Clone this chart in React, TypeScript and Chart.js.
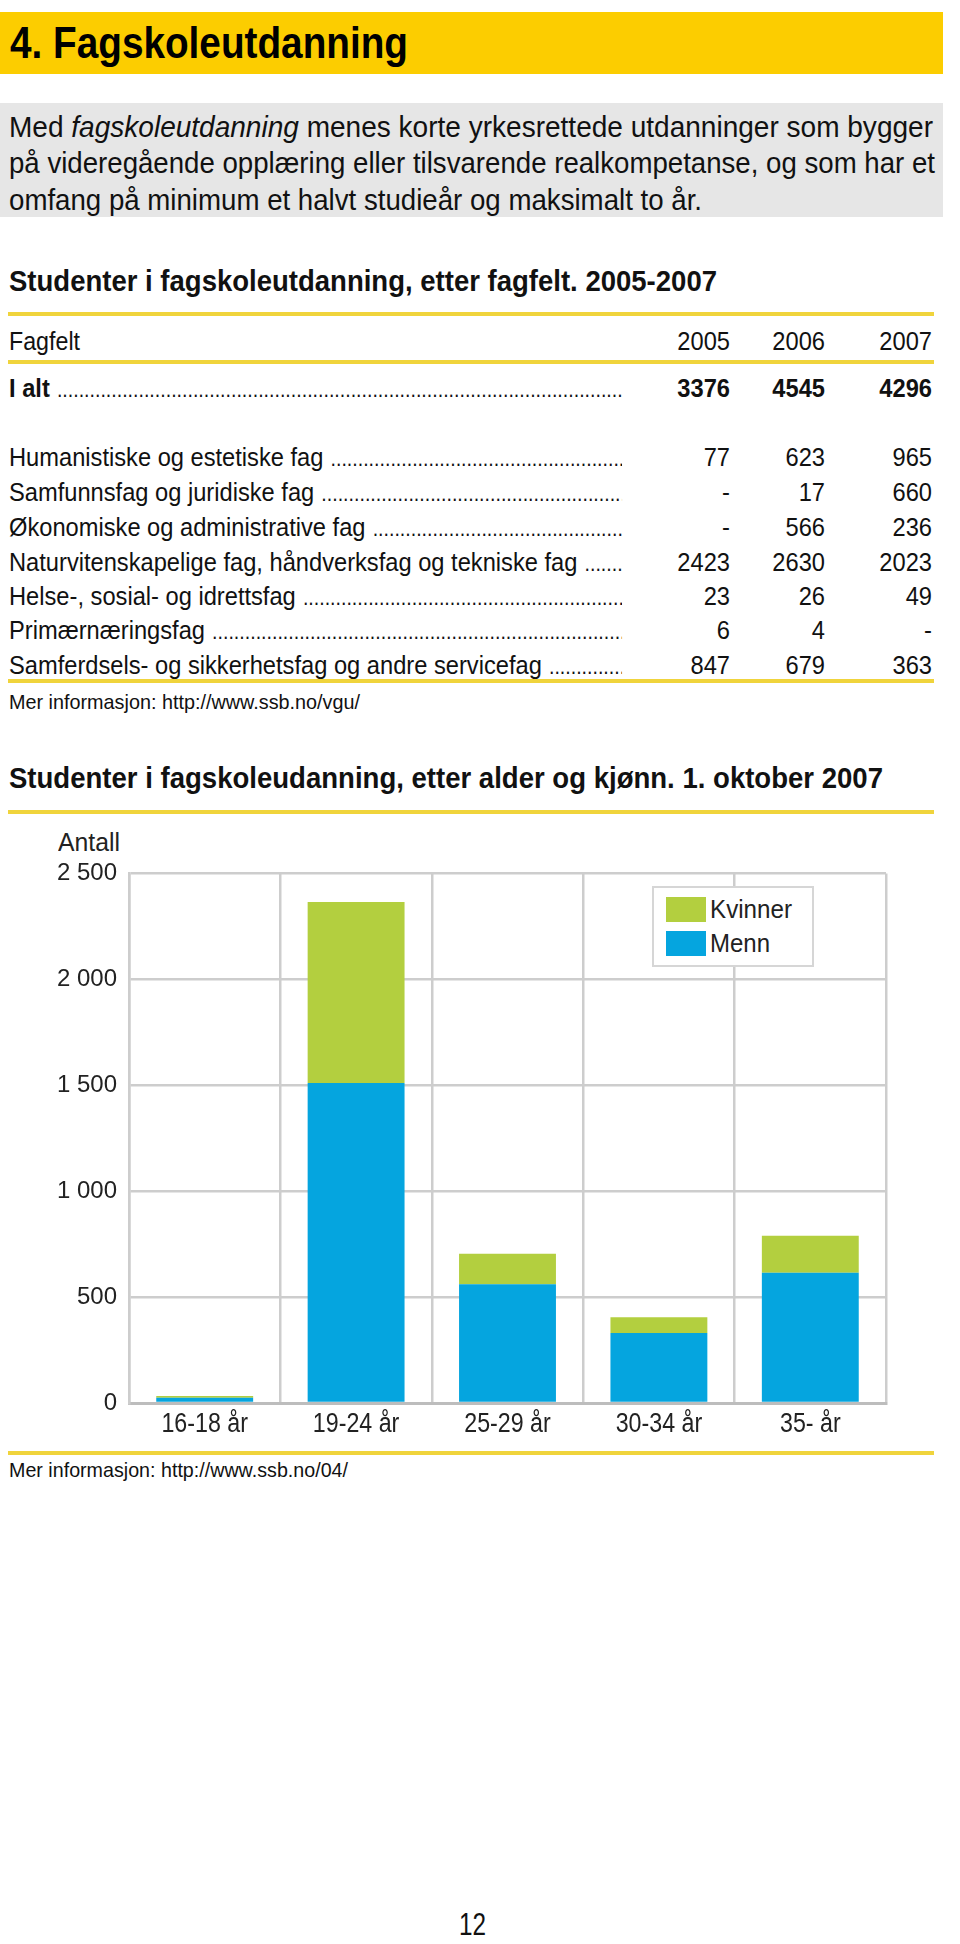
import React, { useEffect, useLayoutEffect, useRef } from "react";
import { Chart, registerables } from "chart.js";

Chart.register(...registerables);

const FONT = "'Liberation Sans', Arial, Helvetica, sans-serif";

// ---- Table data ----
const tableYears = ["2005", "2006", "2007"];
const totalRow = ["3376", "4545", "4296"];
const fields = [
  "Humanistiske og estetiske fag",
  "Samfunnsfag og juridiske fag",
  "Økonomiske og administrative fag",
  "Naturvitenskapelige fag, håndverksfag og tekniske fag",
  "Helse-, sosial- og idrettsfag",
  "Primærnæringsfag",
  "Samferdsels- og sikkerhetsfag og andre servicefag",
];
const values2005 = ["77", "-", "-", "2423", "23", "6", "847"];
const values2006 = ["623", "17", "566", "2630", "26", "4", "679"];
const values2007 = ["965", "660", "236", "2023", "49", "-", "363"];

// ---- Chart data ----
const ageGroups = ["16-18 år", "19-24 år", "25-29 år", "30-34 år", "35- år"];
const menn = [25, 1510, 560, 330, 615];
const kvinner = [8, 855, 145, 75, 175];
const yTickValues = [0, 500, 1000, 1500, 2000, 2500];

const GREEN = "#b3cf3f";
const BLUE = "#05a5df";
const YELLOW_LINE = "#f0d43c";
const SQ = 0.89; // horizontal squeeze for the narrow-looking type

const fmt = (v: number) => String(v).replace(/\B(?=(\d{3})+(?!\d))/g, " ");

function abs(left: number, top: number, extra: React.CSSProperties = {}): React.CSSProperties {
  return { position: "absolute", left, top, ...extra };
}

// Text squeezed horizontally to a target width
function Fit({ left, top, width, style, children }: { left: number; top: number; width: number; style: React.CSSProperties; children: React.ReactNode }) {
  const ref = useRef<HTMLSpanElement | null>(null);
  useLayoutEffect(() => {
    const el = ref.current;
    if (!el) return;
    el.style.transform = "none";
    const w = el.getBoundingClientRect().width;
    if (w > 0) el.style.transform = `scaleX(${width / w})`;
  }, []);
  return (
    <span
      ref={ref}
      style={{
        position: "absolute",
        left,
        top,
        display: "inline-block",
        whiteSpace: "nowrap",
        transformOrigin: "left center",
        ...style,
      }}
    >
      {children}
    </span>
  );
}

function YLine({ y }: { y: number }) {
  return <div style={abs(8, y - 2, { width: 926, height: 4, background: YELLOW_LINE })} />;
}

const RIGHTS = [730, 825, 932];

function Cells({ y, vals, bold }: { y: number; vals: string[]; bold?: boolean }) {
  const h = 32;
  return (
    <>
      {vals.map((v, i) => (
        <div
          key={i}
          style={abs(RIGHTS[i] - 100, y - h / 2, {
            fontFamily: FONT,
            fontSize: 26.6,
            fontWeight: bold ? "bold" : "normal",
            lineHeight: h + "px",
            color: "#111",
            whiteSpace: "nowrap",
            width: 100,
            textAlign: "right",
            transform: `scaleX(${SQ})`,
            transformOrigin: "right center",
          })}
        >
          {v}
        </div>
      ))}
    </>
  );
}

function Row({ y, label, vals, bold }: { y: number; label: string; vals: string[]; bold?: boolean }) {
  const h = 32;
  return (
    <>
      <div
        style={abs(9, y - h / 2, {
          fontFamily: FONT,
          fontSize: 26.6,
          fontWeight: bold ? "bold" : "normal",
          lineHeight: h + "px",
          color: "#111",
          whiteSpace: "nowrap",
          width: 613 / SQ,
          display: "flex",
          alignItems: "baseline",
          overflow: "hidden",
          transform: `scaleX(${SQ})`,
          transformOrigin: "left center",
        })}
      >
        <span>{label}</span>
        <span style={{ marginLeft: 8, flex: 1, overflow: "hidden", fontSize: 22, fontWeight: "normal" }}>{".".repeat(200)}</span>
      </div>
      <Cells y={y} vals={vals} bold={bold} />
    </>
  );
}

const xLabelPlugin = {
  id: "narrowXLabels",
  afterDraw(chart: any) {
    const { ctx, chartArea } = chart;
    const x = chart.scales.x;
    const labels: string[] = chart.data.labels;
    ctx.save();
    ctx.font = `27px ${FONT}`;
    ctx.fillStyle = "#222";
    ctx.textAlign = "center";
    ctx.textBaseline = "middle";
    labels.forEach((l, i) => {
      const px = x.getPixelForTick(i);
      ctx.save();
      ctx.translate(px, chartArea.bottom + 22);
      ctx.scale(0.86, 1);
      ctx.fillText(l, 0, 0);
      ctx.restore();
    });
    ctx.restore();
  },
};

function BarChart() {
  const ref = useRef<HTMLCanvasElement | null>(null);
  useEffect(() => {
    if (!ref.current) return;
    const chart = new Chart(ref.current, {
      type: "bar",
      data: {
        labels: ageGroups,
        datasets: [
          { label: "Menn", data: menn, backgroundColor: BLUE, borderWidth: 0, categoryPercentage: 0.8, barPercentage: 0.8 },
          { label: "Kvinner", data: kvinner, backgroundColor: GREEN, borderWidth: 0, categoryPercentage: 0.8, barPercentage: 0.8 },
        ],
      },
      plugins: [xLabelPlugin],
      options: {
        animation: false,
        responsive: false,
        devicePixelRatio: 1,
        layout: { padding: { top: 0, right: 74, bottom: 0, left: 0 } },
        plugins: { legend: { display: false }, tooltip: { enabled: false }, title: { display: false } },
        scales: {
          x: {
            stacked: true,
            grid: { offset: true, color: "#cdcdcd", lineWidth: 2.5, drawTicks: false },
            border: { display: true, color: "#bdbdbd", width: 3 },
            ticks: { font: { family: FONT, size: 24 }, color: "rgba(0,0,0,0)", padding: 8 },
            afterFit: (s: any) => {
              s.height = 45;
            },
          },
          y: {
            stacked: true,
            min: 0,
            max: 2500,
            afterBuildTicks: (s: any) => {
              s.ticks = yTickValues.map((v) => ({ value: v }));
            },
            grid: { color: "#cdcdcd", lineWidth: 2.5, drawTicks: false },
            border: { display: true, color: "#cdcdcd", width: 2.5 },
            ticks: {
              font: { family: FONT, size: 24 },
              color: "#222",
              padding: 12,
              callback: (v: any) => fmt(Number(v)),
            },
            afterFit: (s: any) => {
              s.width = 129;
            },
          },
        },
      },
    });
    return () => chart.destroy();
  }, []);
  // chart area top = canvas top + 28.8/2 + 12 (y tick padding)
  return <canvas ref={ref} width={960} height={601} style={abs(0, 847, { width: 960, height: 601 })} />;
}

export default function App() {
  const text: React.CSSProperties = { fontFamily: FONT, color: "#111", whiteSpace: "nowrap" };
  const rowYs = [457, 492, 527, 562, 596, 630, 665];
  return (
    <div style={{ position: "absolute", left: 0, top: 0, width: 960, height: 1944, background: "#fff" }}>
      {/* Header */}
      <div style={abs(0, 12, { width: 943, height: 62, background: "#fccd00" })} />
      <Fit left={10} top={12} width={398} style={{ ...text, fontSize: 44, fontWeight: "bold", lineHeight: "62px", color: "#000" }}>
        4. Fagskoleutdanning
      </Fit>

      {/* Intro box */}
      <div style={abs(0, 103, { width: 943, height: 114, background: "#e6e6e6" })} />
      <Fit left={9} top={127 - 18} width={924} style={{ ...text, fontSize: 30, lineHeight: "36px" }}>
        Med <i>fagskoleutdanning</i> menes korte yrkesrettede utdanninger som bygger
      </Fit>
      <Fit left={9} top={163 - 18} width={926} style={{ ...text, fontSize: 30, lineHeight: "36px" }}>
        på videregående opplæring eller tilsvarende realkompetanse, og som har et
      </Fit>
      <Fit left={9} top={200 - 18} width={693} style={{ ...text, fontSize: 30, lineHeight: "36px" }}>
        omfang på minimum et halvt studieår og maksimalt to år.
      </Fit>

      {/* Table */}
      <Fit left={9} top={281 - 18} width={708} style={{ ...text, fontSize: 30, fontWeight: "bold", lineHeight: "36px" }}>
        Studenter i fagskoleutdanning, etter fagfelt. 2005-2007
      </Fit>
      <YLine y={314} />
      <Fit left={9} top={341 - 16} width={71} style={{ ...text, fontSize: 26.6, lineHeight: "32px" }}>
        Fagfelt
      </Fit>
      <Cells y={341} vals={tableYears} />
      <YLine y={362} />
      <Row y={388} label="I alt" vals={totalRow} bold />
      {fields.map((f, i) => (
        <Row key={f} y={rowYs[i]} label={f} vals={[values2005[i], values2006[i], values2007[i]]} />
      ))}
      <YLine y={681} />
      <Fit left={9} top={702 - 12} width={351} style={{ ...text, fontSize: 21, lineHeight: "24px" }}>
        Mer informasjon: http://www.ssb.no/vgu/
      </Fit>

      {/* Chart */}
      <Fit left={9} top={778 - 18} width={874} style={{ ...text, fontSize: 30, fontWeight: "bold", lineHeight: "36px" }}>
        Studenter i fagskoleudanning, etter alder og kjønn. 1. oktober 2007
      </Fit>
      <YLine y={812} />
      <Fit left={58} top={842 - 16} width={62} style={{ ...text, fontSize: 26, lineHeight: "32px", color: "#222" }}>
        Antall
      </Fit>
      <BarChart />
      {/* Legend */}
      <div style={abs(652, 886, { width: 158, height: 77, border: "2px solid #d6d6d6", background: "#fff" })}>
        <div style={abs(12, 9, { width: 40, height: 25, background: GREEN })} />
        <div style={abs(12, 43, { width: 40, height: 25, background: BLUE })} />
        <Fit left={56} top={5} width={82} style={{ ...text, fontSize: 26, lineHeight: "32px", color: "#222" }}>
          Kvinner
        </Fit>
        <Fit left={56} top={39} width={60} style={{ ...text, fontSize: 26, lineHeight: "32px", color: "#222" }}>
          Menn
        </Fit>
      </div>
      <YLine y={1453} />
      <Fit left={9} top={1470 - 12} width={339} style={{ ...text, fontSize: 21, lineHeight: "24px" }}>
        Mer informasjon: http://www.ssb.no/04/
      </Fit>

      {/* Page number */}
      <Fit left={459} top={1925 - 18} width={27} style={{ ...text, fontSize: 31, lineHeight: "36px" }}>
        12
      </Fit>
    </div>
  );
}
